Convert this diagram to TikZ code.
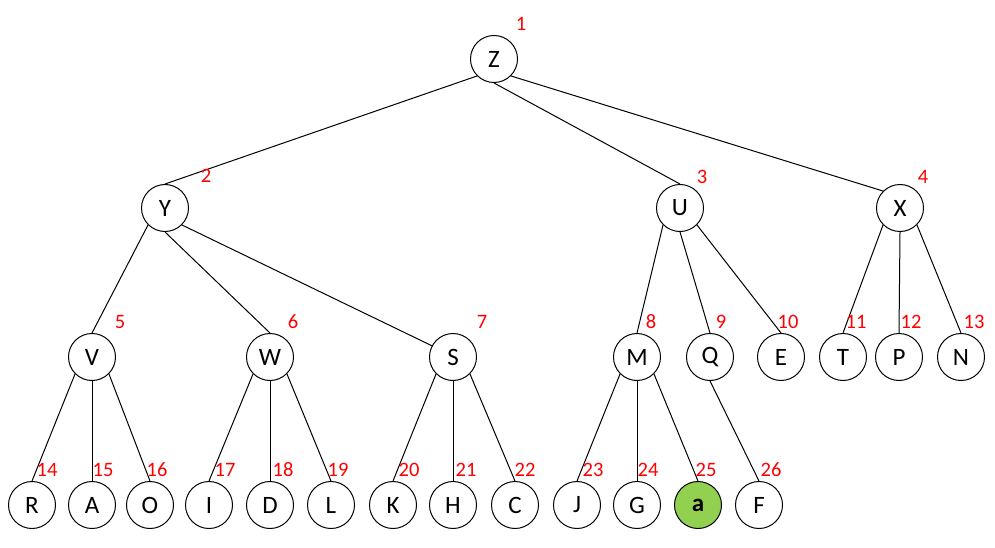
\documentclass[tikz,border=0pt]{standalone}
\usepackage{fontspec}
\setmainfont{Carlito}
\definecolor{leafgreen}{HTML}{92D050}
\definecolor{numred}{HTML}{FF0000}
\begin{document}
\begin{tikzpicture}[x=1pt,y=-1pt,
  tn/.style={circle,draw=black,line width=1pt,minimum size=47pt,inner sep=0pt,font=\fontsize{25}{29}\selectfont},
  num/.style={text=numred,inner sep=0pt,font=\fontsize{20.5}{24}\selectfont},
  edge/.style={line width=1pt}]
\useasboundingbox (0,0) rectangle (995,548);
% nodes
\node[tn] (Z) at (494,59) {Z};
\node[tn] (Y) at (165,208) {Y};
\node[tn] (U) at (680,208) {U};
\node[tn] (X) at (900,208) {X};
\node[tn] (V) at (92,357) {V};
\node[tn] (W) at (270,357) {W};
\node[tn] (S) at (453,357) {S};
\node[tn] (M) at (637,357) {M};
\node[tn] (Q) at (710,357) {Q};
\node[tn] (E) at (781,357) {E};
\node[tn] (T) at (843,357) {T};
\node[tn] (P) at (899,357) {P};
\node[tn] (N) at (961,357) {N};
\node[tn] (R) at (32,505) {R};
\node[tn] (A) at (92,505) {A};
\node[tn] (O) at (150,505) {O};
\node[tn] (I) at (209,505) {I};
\node[tn] (D) at (270,505) {D};
\node[tn] (L) at (331,505) {L};
\node[tn] (K) at (393,505) {K};
\node[tn] (H) at (453,505) {H};
\node[tn] (C) at (515,505) {C};
\node[tn] (J) at (577,505) {J};
\node[tn] (G) at (637,505) {G};
\node[tn,fill=leafgreen] (a) at (698,505) {\bfseries a};
\node[tn] (F) at (759,505) {F};
% edges
\draw[edge] (Z.south west) -- (Y.north);
\draw[edge] (Z.south) -- (U.north);
\draw[edge] (Z.south east) -- (X.north west);
\draw[edge] (Y.south west) -- (V.north);
\draw[edge] (Y.south) -- (W.north);
\draw[edge] (Y.south east) -- (S.152);
\draw[edge] (U.south west) -- (M.north);
\draw[edge] (U.south) -- (Q.north);
\draw[edge] (U.south east) -- (E.north);
\draw[edge] (X.south west) -- (T.north);
\draw[edge] (X.south) -- (P.north);
\draw[edge] (X.south east) -- (N.north);
\draw[edge] (V.south west) -- (R.north);
\draw[edge] (V.south) -- (A.north);
\draw[edge] (V.south east) -- (O.north);
\draw[edge] (W.south west) -- (I.north);
\draw[edge] (W.south) -- (D.north);
\draw[edge] (W.south east) -- (L.north);
\draw[edge] (S.south west) -- (K.north);
\draw[edge] (S.south) -- (H.north);
\draw[edge] (S.south east) -- (C.north);
\draw[edge] (M.south west) -- (J.north);
\draw[edge] (M.south) -- (G.north);
\draw[edge] (M.south east) -- (a.north);
\draw[edge] (Q.south) -- (F.north);
% numbers
\node[num] (n1) at (521,24) {1};
\node[num] (n2) at (206,176) {2};
\node[num] (n3) at (702,177) {3};
\node[num] (n4) at (923,177) {4};
\node[num] (n5) at (120,322) {5};
\node[num] (n6) at (293,322) {6};
\node[num] (n7) at (482,322) {7};
\node[num] (n8) at (651,322) {8};
\node[num] (n9) at (721,322) {9};
\node[num] (n10) at (788,322) {10};
\node[num] (n11) at (856,322) {11};
\node[num] (n12) at (911,322) {12};
\node[num] (n13) at (974,322) {13};
\node[num] (n14) at (47,470) {14};
\node[num] (n15) at (103,470) {15};
\node[num] (n16) at (157,470) {16};
\node[num] (n17) at (225,470) {17};
\node[num] (n18) at (283,470) {18};
\node[num] (n19) at (338,470) {19};
\node[num] (n20) at (409,470) {20};
\node[num] (n21) at (466,470) {21};
\node[num] (n22) at (525,470) {22};
\node[num] (n23) at (593,470) {23};
\node[num] (n24) at (648,470) {24};
\node[num] (n25) at (706,470) {25};
\node[num] (n26) at (771,470) {26};
\end{tikzpicture}
\end{document}
